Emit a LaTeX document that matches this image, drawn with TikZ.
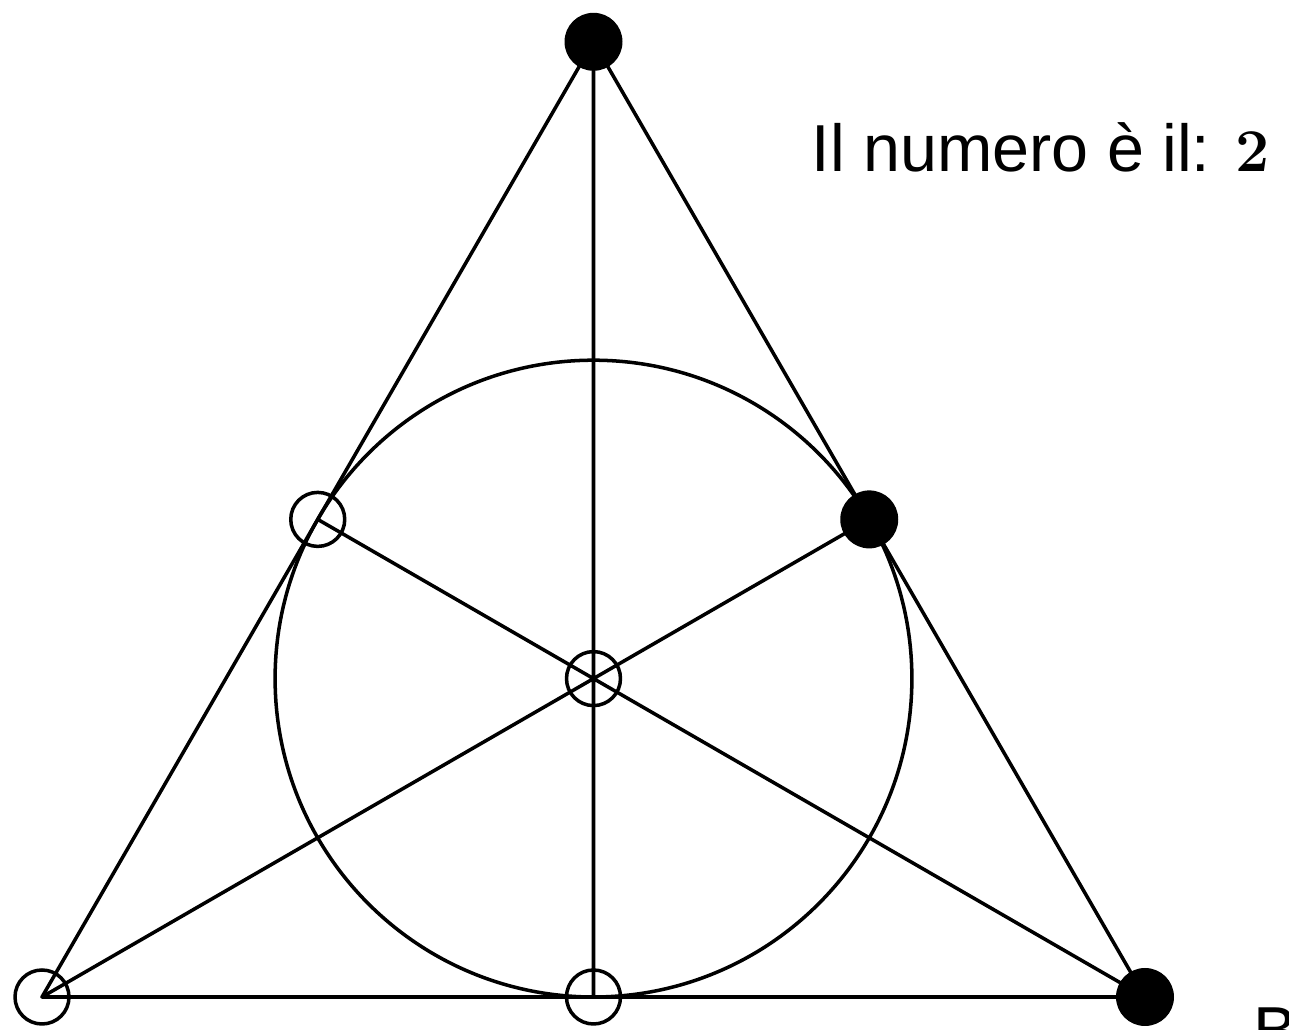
\documentclass[tikz,border=0pt]{standalone}
\usepackage[no-math]{fontspec}
\setmainfont{Liberation Sans}
\usetikzlibrary{calc}
\begin{document}
\begin{tikzpicture}[line join=round, line cap=round, line width=1pt,
	pieno/.style={circle, fill=black, inner sep=0pt, minimum size=5.8mm},
	vuoto/.style={circle, draw=black, line width=1pt, inner sep=0pt, minimum size=5.4mm}]
	\def \l{11.03} %lato del triangolo
	\def \h{9.552}
	\useasboundingbox (0,0) rectangle (12.89,10.30);
	\coordinate (B) at (0.42,0.33);
	\coordinate (C) at (0.42+\l,0.33);
	\coordinate (A) at (0.42+\l/2,0.33+\h);
	\coordinate (O) at (0.42+\l/2,0.33+\h/3);
	\coordinate (MA) at ($(B)!0.5!(C)$);
	\coordinate (MB) at ($(A)!0.5!(C)$);
	\coordinate (MC) at ($(A)!0.5!(B)$);
	\draw (A)--(B)--(C)--cycle (A)--(MA) (B)--(MB) (C)--(MC);
	\draw (O) circle (\h/3);
	\node[pieno] (pA) at (A) {};
	\node[pieno] (pC) at (C) {};
	\node[pieno] (pMB) at (MB) {};
	\node[vuoto] (pB) at (B) {};
	\node[vuoto] (pMA) at (MA) {};
	\node[vuoto] (pMC) at (MC) {};
	\node[vuoto] (pO) at (O) {};
	\node[anchor=base west, font=\fontsize{18.9}{22}\selectfont, inner sep=0pt] (testo) at (8.10,8.58) {Il numero è il: $\mathbf{2}$};
	\node[anchor=base west, font=\fontsize{18.9}{22}\selectfont, inner sep=0pt] (lettera) at (12.52,-0.24) {B};
\end{tikzpicture}
\end{document}
